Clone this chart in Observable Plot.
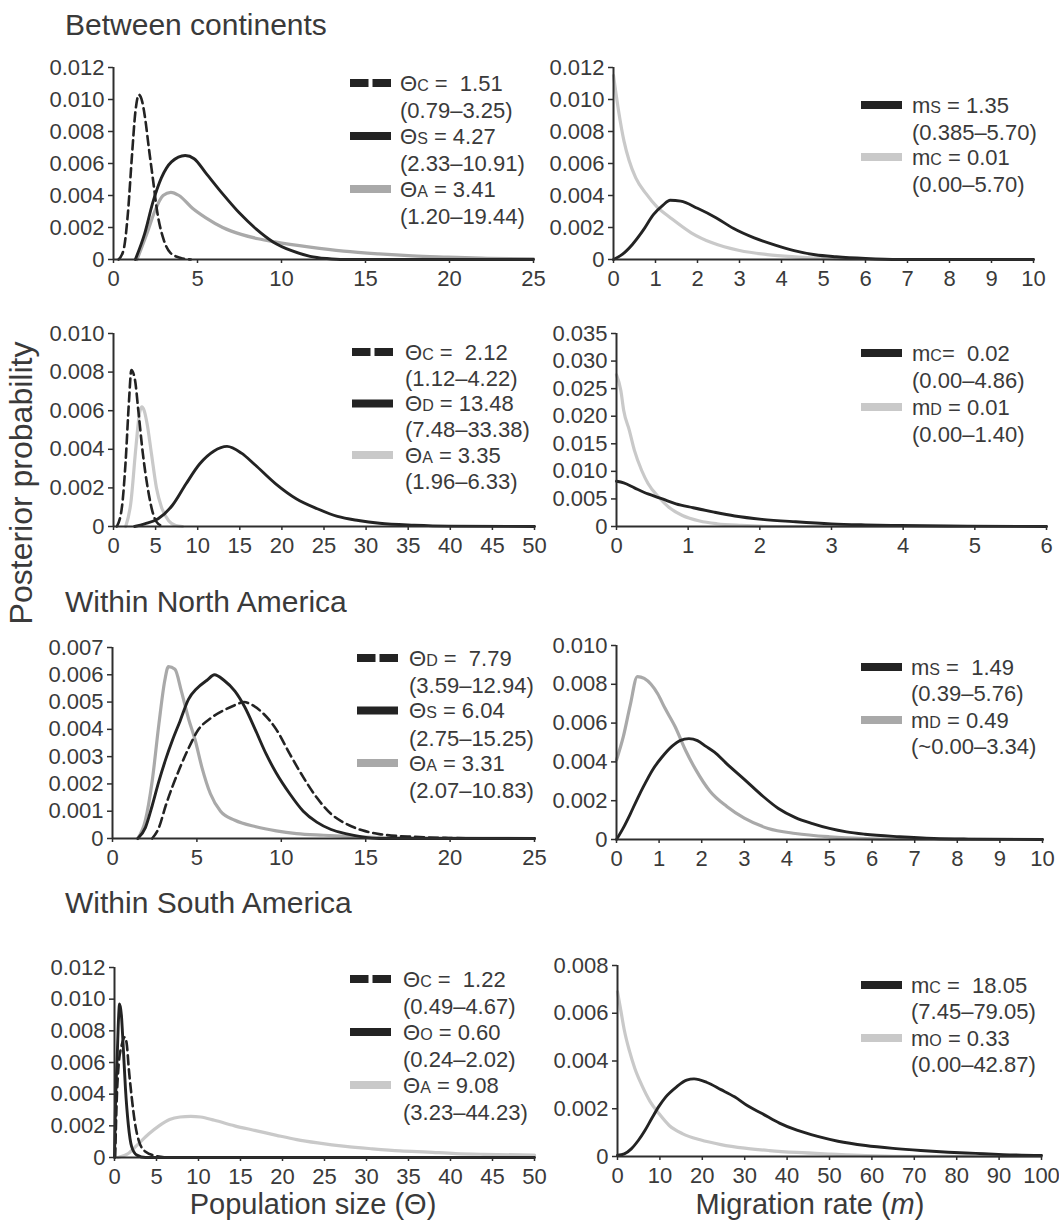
<!DOCTYPE html>
<html>
<head>
<meta charset="utf-8">
<script src="https://cdn.jsdelivr.net/npm/d3@7"></script>
<script src="https://cdn.jsdelivr.net/npm/@observablehq/plot@0.6"></script>
<style>
  body { margin: 0; background: #fff; }
  #fig { position: relative; width: 1059px; height: 1226px; overflow: hidden;
         font-family: "Liberation Sans", Arial, sans-serif; color: #3a3a3a; background: #fff; }
  #fig svg { position: absolute; overflow: visible; }
  .lbl { position: absolute; white-space: nowrap; line-height: 1; }
  .section { font-size: 30px; transform: translateY(-50%); }
  .axis-title { font-size: 28px; transform: translate(-50%, -50%); }
</style>
</head>
<body>
<div id="fig"></div>
<script>
// ---- Posterior densities: [value, posterior probability] ----

// Between continents: population sizes
const bcThetaC = [[0.3,0],[0.6,0.0006],[0.85,0.0028],[1.1,0.0065],[1.3,0.0092],[1.51,0.0103],[1.7,0.0099],[1.9,0.0087],[2.1,0.0070],[2.35,0.0050],[2.6,0.0030],[3.0,0.0012],[3.4,0.0004],[4.0,0.0001],[4.6,0]];
const bcThetaS = [[1.3,0],[1.85,0.0016],[2.35,0.0036],[2.85,0.0051],[3.45,0.0061],[4.27,0.0065],[4.8,0.0063],[5.5,0.0054],[6.5,0.0041],[7.5,0.0029],[8.5,0.0019],[9.5,0.0011],[10.6,0.00055],[11.7,0.0002],[12.7,0.00006],[13.7,0],[25,0]];
const bcThetaA = [[1.4,0],[2.05,0.0018],[2.45,0.003],[2.95,0.004],[3.41,0.0042],[3.9,0.004],[4.7,0.0032],[5.5,0.0026],[6.5,0.002],[7.6,0.00157],[8.6,0.0013],[9.6,0.0011],[11.7,0.00077],[13.7,0.00052],[15.8,0.00035],[17.8,0.00023],[19.9,0.00015],[21.9,0.00008],[25,0.00004]];

// Between continents: migration rates
const bcMigS = [[0,0],[0.2,0.0003],[0.45,0.00094],[0.7,0.0018],[0.95,0.0028],[1.18,0.0034],[1.35,0.0037],[1.6,0.00365],[2.0,0.0032],[2.45,0.0026],[2.85,0.00195],[3.35,0.00135],[3.85,0.0009],[4.3,0.00056],[4.8,0.0003],[5.3,0.00017],[6.0,0.00006],[6.8,0],[10,0]];
const bcMigC = [[0,0.0115],[0.12,0.0093],[0.25,0.0074],[0.37,0.0062],[0.53,0.0051],[0.78,0.0041],[1.03,0.0033],[1.36,0.0026],[1.85,0.00167],[2.35,0.00104],[3.0,0.00056],[3.66,0.00031],[4.32,0.00017],[5.14,0.00006],[6,0],[10,0]];

// Between continents (second set): population sizes
const bcThetaC2 = [[0.4,0],[1.0,0.001],[1.43,0.0033],[1.84,0.0065],[2.12,0.0081],[2.55,0.0076],[2.95,0.006],[3.48,0.0038],[4.1,0.0019],[4.7,0.00066],[5.3,0.00014],[6.1,0]];
const bcThetaA2 = [[1.45,0],[2.05,0.0012],[2.66,0.0041],[3.1,0.0059],[3.35,0.0062],[3.65,0.006],[4.0,0.0053],[4.5,0.0038],[5.1,0.002],[5.7,0.001],[6.55,0.0003],[7.4,0.00005],[8.2,0]];
const bcThetaD = [[2.5,0],[3.7,0.00014],[5.3,0.0004],[7.0,0.0011],[8.6,0.0022],[10.25,0.00325],[11.9,0.0039],[13.48,0.00415],[15.2,0.0038],[16.8,0.0032],[19.3,0.0022],[21.7,0.00144],[24.2,0.00092],[26.6,0.00052],[29.1,0.00031],[31.6,0.00017],[35.7,0.00007],[39.8,0.00002],[50,0]];

// Between continents (second set): migration rates
const bcMigC2 = [[0,0.0082],[0.1,0.0079],[0.25,0.007],[0.44,0.0059],[0.64,0.005],[0.83,0.0041],[1.07,0.0034],[1.36,0.0026],[1.65,0.0019],[2.03,0.0013],[2.5,0.00085],[3.0,0.00048],[3.47,0.0003],[3.96,0.00018],[4.9,0.00006],[6,0]];
const bcMigD = [[0,0.0275],[0.06,0.0247],[0.1,0.0211],[0.18,0.0174],[0.25,0.0138],[0.35,0.0102],[0.44,0.0078],[0.59,0.0053],[0.73,0.0035],[0.92,0.002],[1.16,0.001],[1.4,0.0005],[1.74,0.0002],[2.27,0],[6,0]];

// Within North America: population sizes
const naThetaA = [[1.5,0],[1.95,0.00067],[2.35,0.0021],[2.75,0.0042],[3.1,0.0058],[3.31,0.0063],[3.7,0.0062],[4.08,0.0054],[4.5,0.0044],[4.9,0.0036],[5.3,0.0026],[5.8,0.00164],[6.4,0.001],[7.25,0.00067],[8.5,0.00043],[9.7,0.00028],[10.9,0.00018],[12.5,0.00012],[14.6,0.00006],[16.8,0.00002],[25,0]];
const naThetaS = [[1.5,0],[1.95,0.0004],[2.35,0.0012],[2.75,0.0021],[3.15,0.0029],[3.55,0.0036],[4.0,0.0043],[4.5,0.0051],[5.0,0.0055],[5.6,0.0058],[6.04,0.006],[6.6,0.0058],[7.25,0.0054],[7.85,0.0048],[8.45,0.004],[9.1,0.0031],[9.7,0.0024],[10.5,0.00164],[11.3,0.001],[12.1,0.0006],[12.95,0.00033],[13.8,0.00018],[14.8,0.00006],[15.8,0],[25,0]];
const naThetaD = [[2.35,0],[2.75,0.0004],[3.15,0.0012],[3.55,0.0019],[4.0,0.0026],[4.5,0.0033],[5.1,0.004],[5.8,0.0044],[6.6,0.0047],[7.3,0.0049],[7.79,0.005],[8.25,0.0049],[8.9,0.0046],[9.7,0.004],[10.5,0.0031],[11.3,0.00225],[12.1,0.0015],[12.95,0.0009],[13.8,0.00055],[14.8,0.0003],[15.8,0.00016],[17.9,0.00006],[19.9,0.00002],[21.9,0],[25,0]];

// Within North America: migration rates
const naMigD = [[0,0.0041],[0.16,0.0053],[0.32,0.0069],[0.49,0.0084],[0.65,0.0083],[0.81,0.008],[0.97,0.0075],[1.13,0.0068],[1.38,0.0058],[1.62,0.0046],[1.86,0.0036],[2.19,0.0025],[2.59,0.0017],[3.0,0.0011],[3.56,0.00057],[4.2,0.00031],[5.0,0.00014],[5.83,0.00005],[6.6,0.00002],[10,0]];
const naMigS = [[0,0],[0.16,0.0006],[0.32,0.0013],[0.49,0.0021],[0.65,0.0028],[0.85,0.0036],[1.05,0.0042],[1.3,0.0048],[1.49,0.0051],[1.7,0.0052],[1.9,0.0051],[2.1,0.0048],[2.3,0.0045],[2.59,0.0039],[3.0,0.0031],[3.4,0.0023],[3.8,0.0016],[4.2,0.00113],[4.6,0.00082],[5.0,0.00057],[5.4,0.00039],[5.83,0.00027],[6.64,0.00014],[7.45,0.00005],[8.26,0.00002],[10,0]];

// Within South America: population sizes
const saThetaA = [[0.4,0],[1.64,0.00025],[2.87,0.00088],[4.1,0.0015],[5.3,0.002],[6.56,0.0024],[7.8,0.00256],[9.08,0.0026],[10.25,0.00256],[11.9,0.00235],[14.3,0.002],[16.8,0.0017],[19.3,0.0014],[21.7,0.00113],[24.2,0.00092],[27.5,0.0007],[30.7,0.00055],[34.0,0.00042],[37.3,0.00034],[40.6,0.00025],[43.9,0.0002],[50,0.00015]];
const saThetaO = [[0,0],[0.12,0.0034],[0.33,0.0065],[0.5,0.009],[0.6,0.0097],[0.82,0.009],[1.02,0.0072],[1.3,0.0044],[1.64,0.0021],[2.05,0.00067],[2.66,0.00015],[3.7,0],[50,0]];
const saThetaC = [[0.08,0],[0.25,0.0034],[0.5,0.0059],[0.82,0.007],[1.22,0.0076],[1.45,0.0072],[1.72,0.0055],[2.05,0.0038],[2.46,0.0021],[2.87,0.0011],[3.7,0.00036],[4.9,0.0001],[6.1,0]];

// Within South America: migration rates
const saMigO = [[0,0.0069],[0.8,0.0061],[1.6,0.0053],[2.85,0.0044],[4.07,0.0037],[5.7,0.003],[7.7,0.0023],[9.76,0.0018],[12.2,0.0013],[15.4,0.00095],[19.5,0.0007],[24.4,0.0005],[30,0.00035],[35.8,0.00025],[42.3,0.00017],[50.4,0.0001],[58.5,0.00004],[66.7,0.00001],[100,0]];
const saMigC = [[0,0.00005],[1.6,0.00011],[3.25,0.00032],[4.9,0.00067],[6.5,0.0011],[8.1,0.0016],[9.76,0.0021],[11.4,0.0025],[13.8,0.0029],[16.3,0.0032],[18.05,0.00325],[21.1,0.0031],[24.4,0.0028],[27.6,0.0025],[30.9,0.0021],[34.1,0.0018],[38.2,0.0014],[42.3,0.0011],[47.2,0.00084],[52,0.00064],[58.5,0.00046],[65,0.00034],[71.5,0.00025],[78,0.00018],[84.5,0.00013],[91,0.00008],[100,0.00004]];

// ---- Tick values ----
const ticks0to25 = [0,5,10,15,20,25];
const ticks0to50 = [0,5,10,15,20,25,30,35,40,45,50];
const ticks0to10 = [0,1,2,3,4,5,6,7,8,9,10];
const ticks0to6 = [0,1,2,3,4,5,6];
const ticks0to100 = [0,10,20,30,40,50,60,70,80,90,100];
const yTicks012 = [0,0.002,0.004,0.006,0.008,0.010,0.012];
const yTicks010 = [0,0.002,0.004,0.006,0.008,0.010];
const yTicks035 = [0,0.005,0.010,0.015,0.020,0.025,0.030,0.035];
const yTicks007 = [0,0.001,0.002,0.003,0.004,0.005,0.006,0.007];
const yTicks008 = [0,0.002,0.004,0.006,0.008];

// ---- Legend entries: symbol, small-cap subscript, estimate, 95% interval ----
const bcPopLegend = [["Θ","C"," =  1.51","(0.79–3.25)"],["Θ","S"," = 4.27","(2.33–10.91)"],["Θ","A"," = 3.41","(1.20–19.44)"]];
const bcMigLegend = [["m","S"," = 1.35","(0.385–5.70)"],["m","C"," = 0.01","(0.00–5.70)"]];
const bcPopLegend2 = [["Θ","C"," =  2.12","(1.12–4.22)"],["Θ","D"," = 13.48","(7.48–33.38)"],["Θ","A"," = 3.35","(1.96–6.33)"]];
const bcMigLegend2 = [["m","C","=  0.02","(0.00–4.86)"],["m","D"," = 0.01","(0.00–1.40)"]];
const naPopLegend = [["Θ","D"," =  7.79","(3.59–12.94)"],["Θ","S"," = 6.04","(2.75–15.25)"],["Θ","A"," = 3.31","(2.07–10.83)"]];
const naMigLegend = [["m","S"," =  1.49","(0.39–5.76)"],["m","D"," = 0.49","(~0.00–3.34)"]];
const saPopLegend = [["Θ","C"," =  1.22","(0.49–4.67)"],["Θ","O"," = 0.60","(0.24–2.02)"],["Θ","A"," = 9.08","(3.23–44.23)"]];
const saMigLegend = [["m","C"," =  18.05","(7.45–79.05)"],["m","O"," = 0.33","(0.00–42.87)"]];

// ---- Styles ----
const INK = "#232323";
const GREY_MID = "#a9a9a9";
const GREY_LIGHT = "#c9c9c9";
const DASH = "9,5";
const solid = (c) => ({color: c, width: c === INK ? 2.9 : 3.2, dash: null});
const dashed = {color: INK, width: 2.6, dash: DASH};

// Panel layout (pixel frame) and content
const panels = [
  {col: 0, frame: {x0: 113, x1: 533, yTop: 67, y0: 259}, x: [0, 25], y: [0, 0.012], xTicks: ticks0to25, yTicks: yTicks012,
   series: [[bcThetaA, solid(GREY_MID)], [bcThetaS, solid(INK)], [bcThetaC, dashed]],
   legend: {entries: bcPopLegend, styles: [dashed, solid(INK), solid(GREY_MID)], swatchX: 350, textX: 400, top: 83, gap: 53, line: 27}},
  {col: 1, frame: {x0: 613, x1: 1033, yTop: 67, y0: 259}, x: [0, 10], y: [0, 0.012], xTicks: ticks0to10, yTicks: yTicks012,
   series: [[bcMigC, solid(GREY_LIGHT)], [bcMigS, solid(INK)]],
   legend: {entries: bcMigLegend, styles: [solid(INK), solid(GREY_LIGHT)], swatchX: 861, textX: 912, top: 105, gap: 52, line: 27}},
  {col: 0, frame: {x0: 113, x1: 534, yTop: 333, y0: 526}, x: [0, 50], y: [0, 0.010], xTicks: ticks0to50, yTicks: yTicks010,
   series: [[bcThetaA2, solid(GREY_LIGHT)], [bcThetaD, solid(INK)], [bcThetaC2, dashed]],
   legend: {entries: bcPopLegend2, styles: [dashed, solid(INK), solid(GREY_LIGHT)], swatchX: 352, textX: 405, top: 352, gap: 51.5, line: 26}},
  {col: 1, frame: {x0: 616, x1: 1046, yTop: 333, y0: 526}, x: [0, 6], y: [0, 0.035], xTicks: ticks0to6, yTicks: yTicks035,
   series: [[bcMigD, solid(GREY_LIGHT)], [bcMigC2, solid(INK)]],
   legend: {entries: bcMigLegend2, styles: [solid(INK), solid(GREY_LIGHT)], swatchX: 861, textX: 912, top: 353, gap: 54, line: 27}},
  {col: 0, frame: {x0: 112, x1: 534, yTop: 647, y0: 838}, x: [0, 25], y: [0, 0.007], xTicks: ticks0to25, yTicks: yTicks007,
   series: [[naThetaA, solid(GREY_MID)], [naThetaS, solid(INK)], [naThetaD, dashed]],
   legend: {entries: naPopLegend, styles: [dashed, solid(INK), solid(GREY_MID)], swatchX: 357, textX: 409, top: 658, gap: 52.5, line: 27.5}},
  {col: 1, frame: {x0: 616, x1: 1042, yTop: 645, y0: 839}, x: [0, 10], y: [0, 0.010], xTicks: ticks0to10, yTicks: yTicks010,
   series: [[naMigD, solid(GREY_MID)], [naMigS, solid(INK)]],
   legend: {entries: naMigLegend, styles: [solid(INK), solid(GREY_MID)], swatchX: 861, textX: 911, top: 667, gap: 53, line: 26.5}},
  {col: 0, frame: {x0: 114, x1: 534, yTop: 967, y0: 1157}, x: [0, 50], y: [0, 0.012], xTicks: ticks0to50, yTicks: yTicks012,
   series: [[saThetaA, solid(GREY_LIGHT)], [saThetaO, solid(INK)], [saThetaC, dashed]],
   legend: {entries: saPopLegend, styles: [dashed, solid(INK), solid(GREY_LIGHT)], swatchX: 350, textX: 403, top: 979, gap: 53, line: 27.5}},
  {col: 1, frame: {x0: 617, x1: 1041, yTop: 965, y0: 1156}, x: [0, 100], y: [0, 0.008], xTicks: ticks0to100, yTicks: yTicks008,
   series: [[saMigO, solid(GREY_LIGHT)], [saMigC, solid(INK)]],
   legend: {entries: saMigLegend, styles: [solid(INK), solid(GREY_LIGHT)], swatchX: 861, textX: 911, top: 985, gap: 53, line: 26}}
];

const fig = document.getElementById("fig");
const FONT = "'Liberation Sans', Arial, sans-serif";
const yFmt = d => d === 0 ? "0" : d3.format(".3f")(d);
const xFmt = d3.format("d");

function drawPanel(p) {
  const svgLeft = p.col === 0 ? 0 : 530;
  const marginTop = 24, marginBottom = 40, marginRight = 13;
  const svgTop = p.frame.yTop - marginTop;
  const marginLeft = p.frame.x0 - svgLeft;
  const width = p.frame.x1 + marginRight - svgLeft;
  const height = p.frame.y0 + marginBottom - svgTop;

  const svg = Plot.plot({
    width, height, marginLeft, marginRight, marginTop, marginBottom,
    style: {fontSize: "22px", fontFamily: FONT, color: "#3a3a3a", background: "transparent", overflow: "visible"},
    x: {domain: p.x},
    y: {domain: p.y},
    marks: [
      ...p.series.map(([data, s]) => Plot.line(data, {
        x: d => d[0], y: d => d[1], stroke: s.color, strokeWidth: s.width,
        strokeDasharray: s.dash, curve: "monotone-x"
      })),
      Plot.ruleY([0], {stroke: "#2e2e2e", strokeWidth: 2}),
      Plot.ruleX([p.x[0]], {stroke: "#2e2e2e", strokeWidth: 2}),
      Plot.axisX({ticks: p.xTicks, tickFormat: xFmt, tickSize: 4, tickPadding: 7, label: null, stroke: "#2e2e2e", strokeWidth: 1.5}),
      Plot.axisY({ticks: p.yTicks, tickFormat: yFmt, tickSize: 5, tickPadding: 4, label: null, stroke: "#2e2e2e", strokeWidth: 1.5})
    ]
  });
  svg.style.left = svgLeft + "px";
  svg.style.top = svgTop + "px";

  // In-plot legend: swatch, estimate line, interval line
  const g = d3.select(svg).append("g")
    .attr("transform", `translate(${-svgLeft},${-svgTop})`)
    .attr("font-family", FONT).attr("font-size", 22).attr("fill", "#3a3a3a");
  const L = p.legend;
  L.entries.forEach(([sym, sub, est, ci], i) => {
    const y = L.top + i * L.gap;
    const st = L.styles[i];
    g.append("line")
      .attr("x1", L.swatchX).attr("x2", L.swatchX + 41).attr("y1", y).attr("y2", y)
      .attr("stroke", st.color).attr("stroke-width", 8)
      .attr("stroke-dasharray", st.dash ? "18.5,4" : null);
    const t = g.append("text").attr("x", L.textX).attr("y", y).attr("dy", "0.35em")
      .attr("text-anchor", "start").attr("xml:space", "preserve");
    t.append("tspan").text(sym);
    t.append("tspan").attr("font-size", 16).text(sub);
    t.append("tspan").text(est);
    g.append("text").attr("x", L.textX).attr("y", y + L.line).attr("dy", "0.35em")
      .attr("text-anchor", "start").text(ci);
  });
  fig.appendChild(svg);
}

panels.forEach(drawPanel);

// Section headings and shared axis titles
function addLabel(text, cls, left, top, extra) {
  const d = document.createElement("div");
  d.className = "lbl " + cls;
  d.style.left = left + "px";
  d.style.top = top + "px";
  if (extra) Object.assign(d.style, extra);
  d.innerHTML = text;
  fig.appendChild(d);
}
addLabel("Between continents", "section", 65, 25);
addLabel("Within North America", "section", 65, 602);
addLabel("Within South America", "section", 65, 903);
addLabel("Population size (Θ)", "axis-title", 313, 1204, {fontSize: "29px"});
addLabel("Migration rate (<i>m</i>)", "axis-title", 810, 1204, {fontSize: "29px"});
addLabel("Posterior probability", "axis-title", 21, 483, {fontSize: "32px", transform: "translate(-50%, -50%) rotate(-90deg)"});
</script>
</body>
</html>
